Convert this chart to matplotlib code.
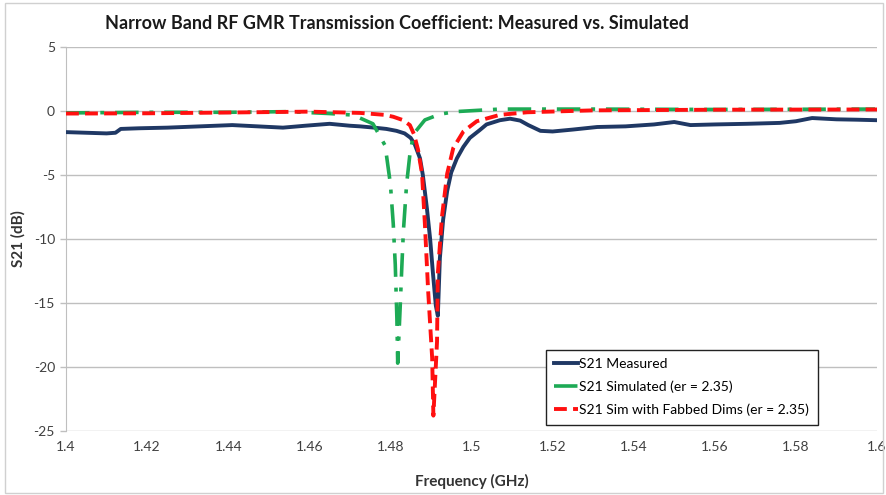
import matplotlib
matplotlib.use("Agg")
import matplotlib.pyplot as plt
from matplotlib.patches import Rectangle

plt.rcParams['font.family'] = ['Lato', 'DejaVu Sans']
plt.rcParams['axes.unicode_minus'] = False

# Measured S21 (GHz, dB)
meas_f = [1.400, 1.405, 1.410, 1.4122, 1.4135, 1.418, 1.425, 1.433, 1.441, 1.4535,
          1.459, 1.465, 1.470, 1.4725, 1.476, 1.479, 1.4815, 1.4835, 1.485, 1.486,
          1.4873, 1.488, 1.489, 1.4898, 1.4905, 1.4912, 1.4917, 1.4922, 1.493, 1.494,
          1.495, 1.4964, 1.498, 1.4996, 1.502, 1.5037, 1.507, 1.5095, 1.512, 1.514,
          1.517, 1.520, 1.525, 1.531, 1.538, 1.545, 1.550, 1.554, 1.560, 1.568,
          1.576, 1.580, 1.584, 1.590, 1.595, 1.600]
meas_db = [-1.65, -1.7, -1.75, -1.7, -1.4, -1.35, -1.3, -1.2, -1.1, -1.3,
           -1.15, -1.0, -1.15, -1.2, -1.3, -1.4, -1.55, -1.75, -2.1, -2.6,
           -3.7, -5.0, -7.6, -10.0, -12.7, -15.2, -16.0, -11.5, -8.5, -6.25,
           -4.8, -3.7, -2.8, -2.1, -1.5, -1.05, -0.72, -0.6, -0.75, -1.1,
           -1.55, -1.6, -1.45, -1.25, -1.2, -1.05, -0.86, -1.1, -1.05, -1.0,
           -0.93, -0.8, -0.55, -0.65, -0.68, -0.72]

# Simulated S21, er = 2.35
sim_f = [1.400, 1.420, 1.440, 1.455, 1.465, 1.470, 1.4725, 1.4757, 1.4787, 1.480,
         1.4807, 1.4812, 1.4816, 1.4818, 1.4824, 1.4828, 1.4832, 1.484, 1.4848, 1.4857,
         1.4885, 1.4922, 1.496, 1.507, 1.530, 1.560, 1.600]
sim_db = [-0.15, -0.1, -0.1, -0.05, -0.2, -0.3, -0.55, -1.0, -2.7, -5.7,
          -8.8, -12.0, -16.2, -19.7, -15.4, -12.3, -9.4, -5.7, -3.4, -1.8,
          -0.7, -0.25, -0.05, 0.15, 0.15, 0.12, 0.15]

# Simulated S21 with fabricated dimensions, er = 2.35
fab_f = [1.400, 1.420, 1.440, 1.460, 1.4725, 1.4785, 1.4807, 1.483, 1.4848, 1.4858,
         1.4868, 1.4878, 1.4885, 1.4893, 1.4903, 1.4906, 1.4915, 1.4917, 1.4927, 1.494,
         1.4955, 1.498, 1.5013, 1.507, 1.5137, 1.530, 1.560, 1.600]
fab_db = [-0.2, -0.18, -0.12, -0.05, -0.15, -0.3, -0.45, -0.7, -1.1, -1.8,
          -3.0, -4.9, -8.8, -14.0, -19.3, -23.8, -18.0, -12.7, -8.3, -4.9,
          -2.9, -1.6, -0.8, -0.3, -0.1, 0.05, 0.1, 0.12]

x_ticks = [1.40, 1.42, 1.44, 1.46, 1.48, 1.50, 1.52, 1.54, 1.56, 1.58, 1.60]
x_tick_labels = ["1.4", "1.42", "1.44", "1.46", "1.48", "1.5", "1.52", "1.54", "1.56", "1.58", "1.6"]
y_ticks = [5, 0, -5, -10, -15, -20, -25]

fig = plt.figure(figsize=(8.87, 4.95), dpi=100)
ax = fig.add_axes([66 / 887, 1 - 431 / 495, (877 - 66) / 887, (431 - 47) / 495])

ax.plot(meas_f, meas_db, color='#1F3864', lw=2.8, label='S21 Measured', zorder=3)
ax.plot(sim_f, sim_db, color='#1DAA55', lw=2.6, dashes=(6.5, 3, 1.1, 3),
        label='S21 Simulated (er = 2.35)', zorder=4)
ax.plot(fab_f, fab_db, color='#FF1010', lw=2.8, dashes=(3.3, 1.6),
        label='S21 Sim with Fabbed Dims (er = 2.35)', zorder=5)

ax.set_xlim(1.4, 1.6)
ax.set_ylim(-25, 5)
ax.set_xticks(x_ticks)
ax.set_xticklabels(x_tick_labels)
ax.set_yticks(y_ticks)
ax.tick_params(axis='x', length=0, labelsize=10, colors='#404040', pad=7)
ax.tick_params(axis='y', length=4, width=1, color='#BFBFBF', labelsize=10,
               labelcolor='#404040', pad=4)
ax.yaxis.grid(True, color='#BFBFBF', lw=1)
ax.set_axisbelow(True)
for side in ['top', 'right', 'bottom']:
    ax.spines[side].set_visible(False)
ax.spines['left'].set_color('#BFBFBF')

ax.set_xlabel('Frequency (GHz)', fontsize=11, fontweight='bold', color='#333333', labelpad=15)
ax.set_ylabel('S21 (dB)', fontsize=11, fontweight='bold', color='#333333', labelpad=6)

fig.text(0.448, 0.953, 'Narrow Band RF GMR Transmission Coefficient: Measured vs. Simulated',
         ha='center', va='center', fontsize=13, fontweight='bold', color='#1a1a1a')

leg = ax.legend(loc='upper left', bbox_to_anchor=(546 / 887, 1 - 350 / 495),
                bbox_transform=fig.transFigure, fancybox=False, framealpha=1,
                edgecolor='#222222', fontsize=10, handlelength=1.7,
                handletextpad=0.1, borderpad=0.6, labelspacing=0.75,
                borderaxespad=0)
leg.get_frame().set_linewidth(1.0)

fig.patches.append(Rectangle((5 / 887, 2 / 495), 878 / 887, 490 / 495,
                             transform=fig.transFigure, fill=False,
                             edgecolor='#D0D0D0', lw=1))

fig.savefig('out.png', dpi=100)
